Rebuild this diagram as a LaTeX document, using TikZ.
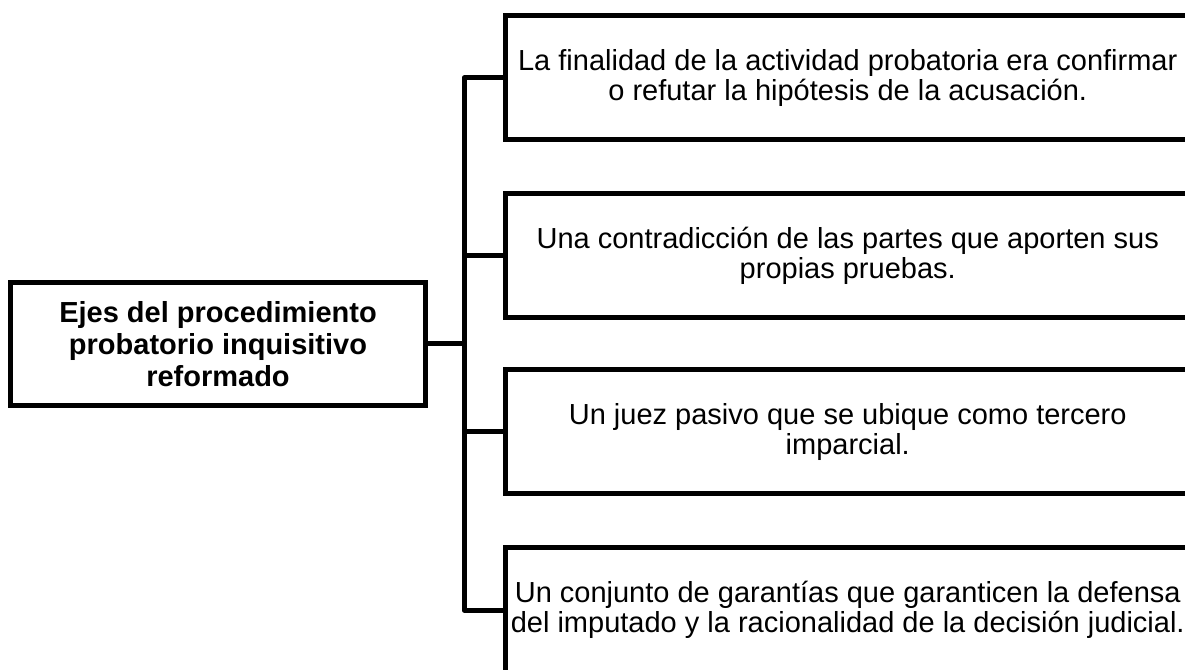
\documentclass[tikz,border=0pt]{standalone}
\usepackage{fontspec}
\setmainfont{Liberation Sans}
\begin{document}
\begin{tikzpicture}[x=1pt,y=1pt,
  frame/.style={draw=black, line width=5pt, fill=none, align=center, inner sep=0pt},
  mainbox/.style={frame, minimum width=415pt, minimum height=122.5pt, font=\bfseries\fontsize{29}{32}\selectfont},
  itembox/.style={frame, minimum width=684.5pt, minimum height=124pt, font=\fontsize{29}{30.5}\selectfont},
  link/.style={draw=black, line width=5pt, line join=round}]
\useasboundingbox (0,0) rectangle (1185,669);
\node[mainbox] (L) at (218,325) {Ejes del procedimiento\\probatorio inquisitivo\\reformado};
\node[itembox] (B1) at (847.75,591) {La finalidad de la actividad probatoria era confirmar\\o refutar la hipótesis de la acusación.};
\node[itembox] (B2) at (847.75,413) {Una contradicción de las partes que aporten sus\\propias pruebas.};
\node[itembox] (B3) at (847.75,237) {Un juez pasivo que se ubique como tercero\\imparcial.};
\node[itembox] (B4) at (847.75,59) {Un conjunto de garantías que garanticen la defensa\\del imputado y la racionalidad de la decisión judicial.};
\coordinate (T) at (464,325);
\draw[link] (B1.west) -- (B1.west -| T) -- (B4.west -| T) -- (B4.west);
\draw[link] (B2.west -| T) -- (B2.west);
\draw[link] (B3.west -| T) -- (B3.west);
\draw[link] (L.east) -- (T);
\end{tikzpicture}
\end{document}
